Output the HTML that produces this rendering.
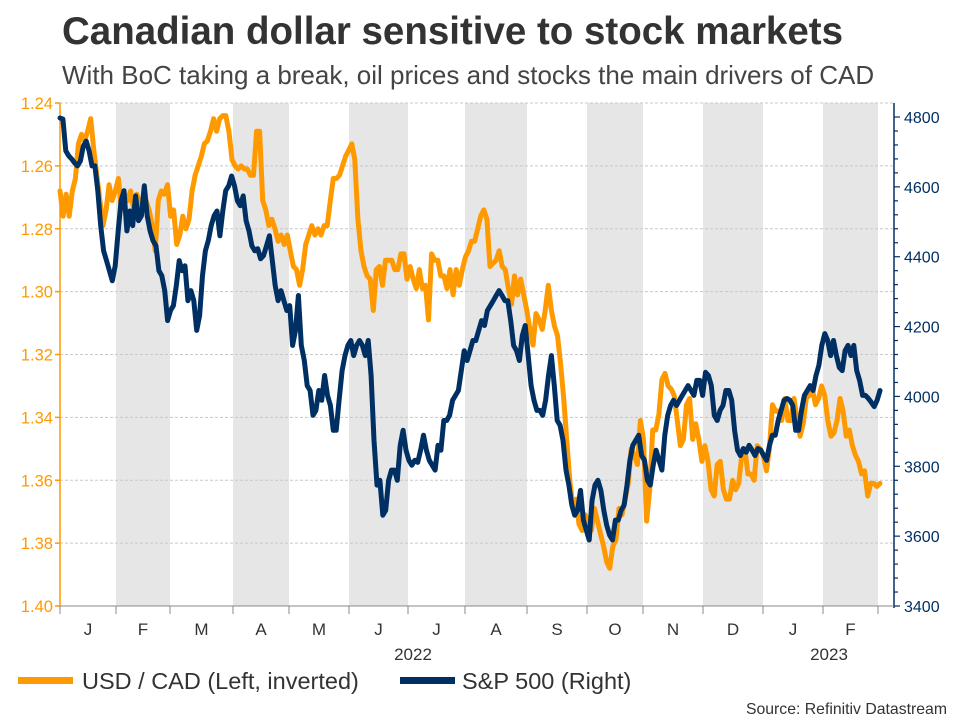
<!DOCTYPE html>
<html><head><meta charset="utf-8">
<style>
body{margin:0;background:#fff;font-family:"Liberation Sans",sans-serif;}
#wrap{position:relative;width:960px;height:720px;overflow:hidden;}
</style></head>
<body>
<div id="wrap">
<svg id="chart" width="960" height="720" xmlns="http://www.w3.org/2000/svg">
<text x="62" y="44" font-size="38.5" font-weight="bold" fill="#333" font-family="Liberation Sans, sans-serif">Canadian dollar sensitive to stock markets</text>
<text x="62" y="84" font-size="26" fill="#444" font-family="Liberation Sans, sans-serif">With BoC taking a break, oil prices and stocks the main drivers of CAD</text>
<g id="bands"></g><g id="grid"></g><g id="axes"></g><g id="series"></g>
<g>
<rect x="18" y="677" width="55" height="7" fill="#ff9900"/>
<text x="82" y="689" font-size="23.5" fill="#333">USD / CAD (Left, inverted)</text>
<rect x="400" y="677" width="55" height="7" fill="#003063"/>
<text x="462" y="689" font-size="23.5" fill="#333">S&amp;P 500 (Right)</text>
</g>
<text x="947" y="714" font-size="15.8" fill="#333" text-anchor="end">Source: Refinitiv Datastream</text>
</svg>
</div>
<script>
const monthLabels=["J","F","M","A","M","J","J","A","S","O","N","D","J","F"];
const leftTicks=[1.24,1.26,1.28,1.30,1.32,1.34,1.36,1.38,1.40];
const rightTicks=[3400,3600,3800,4000,4200,4400,4600,4800];
const yearLabels=["2022","2023"];
const usdcad=[1.268,1.276,1.269,1.276,1.268,1.264,1.253,1.250,1.252,1.249,1.245,1.255,1.263,1.271,1.279,1.274,1.266,1.271,1.268,1.264,1.274,1.269,1.271,1.268,1.274,1.269,1.272,1.274,1.271,1.274,1.279,1.287,1.271,1.268,1.269,1.266,1.276,1.274,1.285,1.282,1.276,1.280,1.277,1.268,1.263,1.260,1.257,1.253,1.252,1.249,1.245,1.249,1.245,1.244,1.244,1.249,1.258,1.260,1.261,1.260,1.261,1.261,1.263,1.263,1.249,1.249,1.271,1.274,1.279,1.277,1.280,1.284,1.282,1.285,1.282,1.287,1.292,1.293,1.298,1.293,1.285,1.282,1.279,1.282,1.280,1.282,1.279,1.279,1.271,1.264,1.264,1.263,1.260,1.257,1.255,1.253,1.258,1.277,1.287,1.292,1.295,1.296,1.306,1.293,1.292,1.298,1.290,1.290,1.290,1.293,1.293,1.288,1.288,1.296,1.292,1.296,1.299,1.293,1.299,1.298,1.309,1.288,1.290,1.290,1.295,1.295,1.299,1.293,1.301,1.293,1.298,1.293,1.289,1.287,1.284,1.284,1.280,1.276,1.274,1.277,1.292,1.291,1.290,1.287,1.292,1.293,1.299,1.304,1.295,1.301,1.296,1.301,1.306,1.312,1.317,1.307,1.309,1.312,1.306,1.298,1.306,1.311,1.314,1.323,1.334,1.347,1.360,1.369,1.366,1.374,1.376,1.371,1.373,1.376,1.369,1.373,1.377,1.381,1.386,1.388,1.381,1.379,1.369,1.371,1.366,1.361,1.350,1.352,1.355,1.341,1.347,1.373,1.363,1.344,1.344,1.339,1.328,1.326,1.330,1.331,1.333,1.341,1.349,1.347,1.336,1.334,1.347,1.342,1.347,1.354,1.349,1.354,1.363,1.365,1.355,1.354,1.363,1.366,1.366,1.360,1.363,1.361,1.352,1.350,1.358,1.358,1.360,1.349,1.350,1.352,1.357,1.350,1.336,1.338,1.338,1.341,1.334,1.341,1.341,1.334,1.341,1.346,1.342,1.334,1.333,1.331,1.336,1.334,1.330,1.333,1.341,1.346,1.345,1.341,1.334,1.338,1.346,1.344,1.349,1.352,1.354,1.358,1.357,1.365,1.361,1.361,1.362,1.361];
const sp500=[4797,4794,4703,4689,4680,4669,4660,4674,4717,4731,4703,4660,4660,4589,4489,4417,4389,4360,4331,4374,4474,4560,4589,4474,4531,4489,4574,4503,4517,4603,4517,4474,4446,4431,4360,4346,4303,4217,4246,4260,4317,4389,4360,4374,4274,4303,4274,4189,4231,4346,4417,4446,4489,4517,4531,4460,4531,4589,4603,4631,4603,4560,4546,4574,4503,4474,4431,4417,4423,4394,4403,4431,4460,4389,4317,4274,4303,4274,4246,4260,4146,4189,4289,4146,4103,4031,4017,3946,3960,4017,3989,4060,4003,3974,3903,3903,3989,4074,4117,4146,4160,4117,4146,4160,4146,4117,4160,4060,3874,3746,3760,3660,3674,3760,3789,3789,3760,3860,3903,3846,3817,3803,3817,3811,3846,3889,3846,3817,3803,3789,3860,3846,3931,3931,3946,3989,4003,4017,4074,4131,4103,4131,4160,4160,4189,4217,4203,4246,4260,4274,4289,4303,4289,4274,4274,4217,4146,4131,4103,4174,4203,4117,4031,3989,3960,3960,3946,3989,4060,4117,4031,3931,3917,3874,3789,3746,3689,3660,3674,3731,3646,3617,3589,3703,3746,3760,3731,3674,3631,3603,3589,3646,3646,3674,3689,3746,3817,3860,3874,3889,3831,3817,3760,3746,3803,3846,3817,3789,3889,3946,3974,3989,3974,3989,4003,4017,4031,4017,4003,4046,4046,4003,4069,4060,4031,3946,3931,3960,3974,4017,4017,3989,3903,3846,3831,3851,3840,3860,3846,3831,3851,3846,3831,3817,3860,3889,3889,3931,3960,3989,3994,3989,3974,3903,3903,3960,4003,4017,4031,4017,4060,4089,4146,4180,4160,4117,4160,4117,4083,4074,4131,4146,4117,4146,4074,4046,4003,4003,3994,3983,3971,3989,4017];

const NS="http://www.w3.org/2000/svg";
const X0=60,X1=894,Y0=103,Y1=606,DX0=60,DX1=880;
const bounds=[60,116,170,233,289,349,408,465,527,587,643,703,763,823,878,894];
function yL(v){return Y0+(v-1.24)/(1.40-1.24)*(Y1-Y0);}
function yR(v){return Y1-(v-3400)/(4800-3400)*(Y1-117);}
function xI(i,n){return DX0+i*(DX1-DX0)/(n-1);}
function mk(tag,attrs,parent){const e=document.createElementNS(NS,tag);for(const k in attrs)e.setAttribute(k,attrs[k]);parent.appendChild(e);return e;}
const bands=document.getElementById('bands'),grid=document.getElementById('grid'),axes=document.getElementById('axes'),series=document.getElementById('series');
for(let m=1;m<14;m+=2){
  const r=mk('rect',{x:bounds[m],y:Y0,width:bounds[m+1]-bounds[m],height:Y1-Y0,fill:'#e6e6e6'},bands);
  
  
}
leftTicks.forEach((t,i)=>{
  const y=yL(t);
  if(i<leftTicks.length-1){
    const g=mk('line',{x1:X0,x2:X1,y1:y,y2:y,stroke:'#c8c8c8','stroke-width':1,'stroke-dasharray':'3,2'},grid);
    
    
  }
  mk('line',{x1:X0-5,x2:X0,y1:y,y2:y,stroke:'#ff9900','stroke-width':1.5},axes);
  const tx=mk('text',{x:X0-7,y:y+6,'font-size':16.5,fill:'#ff9900','text-anchor':'end'},axes);
  tx.textContent=t.toFixed(2);
  
  
});
for(let v=3400;v<=4800;v+=40){
  const y=yR(v);const major=(v%200===0);
  mk('line',{x1:X1,x2:X1+(major?6:4),y1:y,y2:y,stroke:'#003063','stroke-width':1.2},axes);
}
rightTicks.forEach(t=>{
  const tx=mk('text',{x:X1+10,y:yR(t)+6,'font-size':16,fill:'#003063'},axes);
  tx.textContent=t;
  
  
});
const la=mk('line',{x1:X0,x2:X0,y1:Y0,y2:Y1,stroke:'#ff9900','stroke-width':1.5},axes);


const ra=mk('line',{x1:X1,x2:X1,y1:Y0,y2:Y1+2,stroke:'#003063','stroke-width':1.5},axes);


const xa=mk('line',{x1:X0,x2:X1,y1:Y1,y2:Y1,stroke:'#888','stroke-width':1},axes);


bounds.slice(0,15).forEach(b=>mk('line',{x1:b,x2:b,y1:Y1,y2:Y1+8,stroke:'#888','stroke-width':1},axes));
monthLabels.forEach((m,i)=>{
  const tx=mk('text',{x:(bounds[i]+bounds[i+1])/2,y:635,'font-size':17,fill:'#333','text-anchor':'middle'},axes);
  tx.textContent=m;
  
  
});
[[413,0],[829,1]].forEach(([x,i])=>{
  const tx=mk('text',{x:x,y:660,'font-size':17,fill:'#333','text-anchor':'middle'},axes);
  tx.textContent=yearLabels[i];
  
  
});
function line(data,yf,color,name){
  const d=data.map((v,i)=>(i?'L':'M')+xI(i,data.length).toFixed(1)+','+yf(v).toFixed(1)).join('');
  const p=mk('path',{d:d,fill:'none',stroke:color,'stroke-width':5,'stroke-linejoin':'round','stroke-linecap':'round'},series);
  
  
}
line(usdcad,yL,'#ff9900','usdcad-line');
line(sp500,yR,'#003063','sp500-line');
</script>
</body></html>
